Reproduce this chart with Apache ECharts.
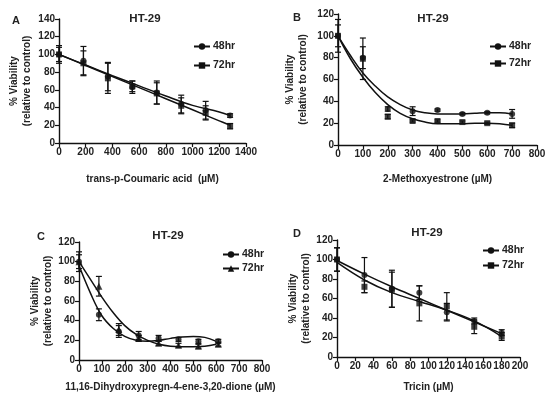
<!DOCTYPE html>
<html><head><meta charset="utf-8">
<script src="https://cdn.jsdelivr.net/npm/echarts@6/dist/echarts.min.js"></script>
<style>html,body{margin:0;padding:0;background:#fff}#c{width:550px;height:398px}</style>
</head><body><div id="c"></div>
<script>
// Panel A
const A_x = [0,183,366,549,732,915,1098,1281];
const A_48 = [100,93,75,63,57,44,37,31];
const A_48err = [10,16,16,7,13,10,10,2];
const A_72 = [100,90,73,64,56,42,34,19];
const A_72err = [8,14,17,6,12,9,8,3];
const A_fitX = [0,200,400,600,800,1000,1200,1281];
const A_fit48 = [100,88,76,64.5,53,42.5,35,31];
const A_fit72 = [100,87.5,75,62.5,50,37.5,25,20];
// Panel B
const B_x = [0,100,200,300,400,500,600,700];
const B_48 = [100,80,33,31,32,28.5,29.5,28.5];
const B_48err = [15,10,2,4,1,1,1,4];
const B_72 = [100,79,26,22,22,21,20,18];
const B_72err = [10,19,2,1,1,1,1,2];
const B_fitX = [0,50,100,150,200,250,300,350,400,450,500,550,600,650,700];
const B_fit48 = [100,82,66,54,44,37,32,29.5,28.5,28.5,28.5,29,29.5,29.5,28.5];
const B_fit72 = [100,79,62,48,37,29,24,21,19.5,19.5,19.5,20,20,19.5,18];
// Panel C
const C_x = [0,87,174,261,348,435,522,609];
const C_48 = [100,46,29,25,22,21,19,19];
const C_48err = [10,6,6,4,3,2,2,2];
const C_72 = [100,75,31,22,17,15,14,16];
const C_72err = [7,10,6,3,2,2,2,2];
const C_fitX = [0,50,100,150,200,250,300,350,400,450,500,550,600];
const C_fit48 = [96,68,45,32,24,20,19,20,22,23.5,24,23,19];
const C_fit72 = [100,82,64,48,35,26,20,16,14,13.5,13.5,14,16];
// Panel D
const D_x = [0,30,60,90,120,150,180];
const D_48 = [100,84,70,66,46,37,25];
const D_48err = [12,18,19,7,9,3,3];
const D_72 = [100,72,69,55,52,31,21];
const D_72err = [12,6,18,18,14,7,4];
const D_fitX = [0,30,60,90,120,150,180];
const D_fit48 = [99,85,72,60,48,36,24];
const D_fit72 = [97,79,66,57,48,37,21];

const panels = [
  {id:'A', grid:{left:59,top:19,width:187,height:124}, xmax:1400, xint:200, ymax:140, yint:20,
   xname:'trans-p-Coumaric acid  (µM)', xgap:31, ygap:25,
   x:A_x, s48:A_48, e48:A_48err, s72:A_72, e72:A_72err, fx:A_fitX, f48:A_fit48, f72:A_fit72, sym72:'rect',
   title:[140,8], letter:[11,10], legend:{left:188,top:36,gap:8}},
  {id:'B', grid:{left:338,top:14,width:199,height:131}, xmax:800, xint:100, ymax:120, yint:20,
   xname:'2-Methoxyestrone (µM)', xgap:29, ygap:28,
   x:B_x, s48:B_48, e48:B_48err, s72:B_72, e72:B_72err, fx:B_fitX, f48:B_fit48, f72:B_fit72, sym72:'rect',
   title:[428,8], letter:[292,7], legend:{left:484,top:36,gap:6}},
  {id:'C', grid:{left:79,top:242,width:183,height:118}, xmax:800, xint:100, ymax:120, yint:20,
   xname:'11,16-Dihydroxypregn-4-ene-3,20-dione (µM)', xgap:22, ygap:24,
   x:C_x, s48:C_48, e48:C_48err, s72:C_72, e72:C_72err, fx:C_fitX, f48:C_fit48, f72:C_fit72, sym72:'triangle',
   title:[163,225], letter:[36,226], legend:{left:217,top:244,gap:3}},
  {id:'D', grid:{left:337,top:240,width:183,height:117}, xmax:200, xint:20, ymax:120, yint:20,
   xname:'Tricin (µM)', xgap:25, ygap:21,
   x:D_x, s48:D_48, e48:D_48err, s72:D_72, e72:D_72err, fx:D_fitX, f48:D_fit48, f72:D_fit72, sym72:'rect',
   title:[422,222], letter:[292,223], legend:{left:477,top:240,gap:4}}
];

const FONT = 'Liberation Sans, Arial, sans-serif';
const axisLine = {show:true, lineStyle:{color:'#111', width:1.4}};
const axisTick = {show:true, inside:false, length:4, lineStyle:{color:'#111', width:1.2}};
const lbl = {color:'#222', fontSize:10, fontWeight:'bold', fontFamily:FONT, margin:4,
  formatter: v => String(v)};

function renderErr(params, api) {
  const x = api.value(0), lo = api.value(1), hi = api.value(2);
  const p1 = api.coord([x, hi]), p2 = api.coord([x, lo]);
  const w = 3;
  const st = {stroke:'#111', lineWidth:1.2};
  return {type:'group', children:[
    {type:'line', shape:{x1:p1[0], y1:p1[1], x2:p2[0], y2:p2[1]}, style:st},
    {type:'line', shape:{x1:p1[0]-w, y1:p1[1], x2:p1[0]+w, y2:p1[1]}, style:st},
    {type:'line', shape:{x1:p2[0]-w, y1:p2[1], x2:p2[0]+w, y2:p2[1]}, style:st}
  ]};
}

const option = {animation:false, backgroundColor:'#fff',
  grid:[], xAxis:[], yAxis:[], series:[], legend:[], title:[]};

panels.forEach((p, i) => {
  option.grid.push(p.grid);
  option.xAxis.push({type:'value', gridIndex:i, min:0, max:p.xmax, interval:p.xint,
    axisLine, axisTick, axisLabel:lbl, splitLine:{show:false},
    name:p.xname, nameLocation:'middle', nameGap:p.xgap,
    nameTextStyle:{color:'#222', fontSize:10, fontWeight:'bold', fontFamily:FONT}});
  option.yAxis.push({type:'value', gridIndex:i, min:0, max:p.ymax, interval:p.yint,
    axisLine, axisTick, axisLabel:lbl, splitLine:{show:false},
    name:'% Viability\n(relative to control)', nameLocation:'middle', nameRotate:90, nameGap:p.ygap,
    nameTextStyle:{color:'#222', fontSize:10, fontWeight:'bold', fontFamily:FONT, lineHeight:13}});
  const n48 = p.id + '48', n72 = p.id + '72';
  option.series.push(
    {type:'line', name:n48, xAxisIndex:i, yAxisIndex:i, data:p.fx.map((x,k)=>[x,p.f48[k]]),
     smooth:0.4, symbol:'circle', symbolSize:6, showSymbol:false, lineStyle:{color:'#111', width:1.5},
     itemStyle:{color:'#111'}, z:2},
    {type:'line', name:n72, xAxisIndex:i, yAxisIndex:i, data:p.fx.map((x,k)=>[x,p.f72[k]]),
     smooth:0.4, symbol:p.sym72, symbolSize:6, showSymbol:false, lineStyle:{color:'#111', width:1.5},
     itemStyle:{color:'#111'}, z:2},
    {type:'custom', xAxisIndex:i, yAxisIndex:i, renderItem:renderErr,
     data:p.x.map((x,k)=>[x, p.s48[k]-p.e48[k], p.s48[k]+p.e48[k]]), z:3},
    {type:'custom', xAxisIndex:i, yAxisIndex:i, renderItem:renderErr,
     data:p.x.map((x,k)=>[x, p.s72[k]-p.e72[k], p.s72[k]+p.e72[k]]), z:3},
    {type:'scatter', xAxisIndex:i, yAxisIndex:i, data:p.x.map((x,k)=>[x,p.s48[k]]),
     symbol:'circle', symbolSize:6, itemStyle:{color:'#111'}, z:4},
    {type:'scatter', xAxisIndex:i, yAxisIndex:i, data:p.x.map((x,k)=>[x,p.s72[k]]),
     symbol:p.sym72, symbolSize:p.sym72==='triangle'?7:6, itemStyle:{color:'#111'}, z:4}
  );
  option.legend.push({data:[n48, n72], left:p.legend.left, top:p.legend.top, orient:'vertical',
    itemGap:p.legend.gap, itemWidth:16, itemHeight:8,
    formatter: nm => nm.slice(1) + 'hr',
    textStyle:{color:'#222', fontSize:10.5, fontWeight:'bold', fontFamily:FONT, padding:[0,0,0,-2]}});
  option.title.push({text:'HT-29', left:p.title[0], top:p.title[1], textAlign:'center',
    textStyle:{color:'#222', fontSize:11.5, fontWeight:'bold', fontFamily:FONT}});
  option.title.push({text:p.id, left:p.letter[0], top:p.letter[1], textAlign:'center',
    textStyle:{color:'#222', fontSize:11, fontWeight:'bold', fontFamily:FONT}});
});

const chart = echarts.init(document.getElementById('c'), null, {renderer:'canvas'});
chart.setOption(option);
</script>
</body></html>
